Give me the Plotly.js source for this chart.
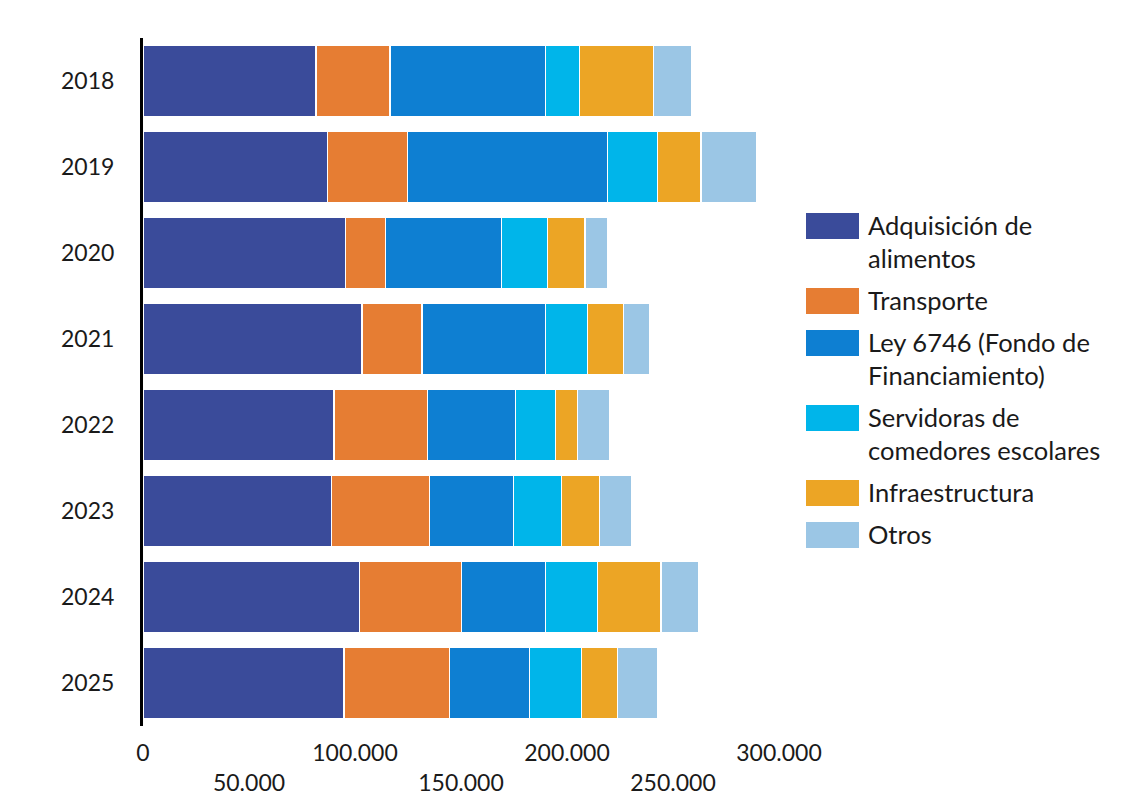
<!DOCTYPE html>
<html>
<head>
<meta charset="utf-8">
<script src="https://cdn.plot.ly/plotly-3.0.1.min.js"></script>
<style>
  html, body { margin: 0; padding: 0; background: #ffffff; }
  #chart { width: 1130px; height: 809px; }
</style>
</head>
<body>
<div id="chart"></div>
<script>
// Years shown on the vertical axis (top to bottom)
const years = ['2018', '2019', '2020', '2021', '2022', '2023', '2024', '2025'];

// Spending by item, same order as years
const adquisicion   = [81500, 87100, 95600, 103200, 90000, 89000, 102200, 94700];
const transporte    = [34900, 37700, 18800, 28300, 44300, 46200, 48000, 49900];
const ley6746       = [73500, 94200, 54600, 58400, 41500, 39600, 39600, 37700];
const servidoras    = [16000, 23600, 21700, 19800, 18800, 22600, 24500, 24500];
const infra         = [34900, 20700, 17900, 17000, 10400, 17900, 30100, 17000];
const otros         = [17900, 26400, 10400, 12200, 15100, 15100, 17900, 18800];

const seriesNames = [
  'Adquisición de<br>alimentos',
  'Transporte',
  'Ley 6746 (Fondo de<br>Financiamiento)',
  'Servidoras de<br>comedores escolares',
  'Infraestructura',
  'Otros'
];
const seriesValues = [adquisicion, transporte, ley6746, servidoras, infra, otros];
const seriesColors = ['#3A4B9A', '#E67D33', '#0E7FD2', '#00B5EA', '#ECA525', '#9BC6E5'];

// X axis ticks, labels alternate between two rows
const xTickVals = [0, 50000, 100000, 150000, 200000, 250000, 300000];
const xTickText = ['0', '\u00a0<br>50.000', '100.000', '\u00a0<br>150.000', '200.000', '\u00a0<br>250.000', '300.000'];

const FONT = 'Lato, "Open Sans", sans-serif';

const traces = seriesValues.map((vals, i) => ({
  type: 'bar',
  orientation: 'h',
  y: years,
  x: vals,
  name: seriesNames[i],
  marker: { color: seriesColors[i], line: { color: '#ffffff', width: 1.5 } },
  showlegend: false,
  hoverinfo: 'x+name'
}));

// Page geometry for the plot area
const W = 1130, H = 809;
const M = { l: 143, r: 351, t: 38, b: 83 };
const plotW = W - M.l - M.r;
const plotH = H - M.t - M.b;
const px2x = px => (px - M.l) / plotW;
const px2y = py => 1 - (py - M.t) / plotH;

// Custom legend block on the right side
const legendLeft = 806, swatchW = 53, swatchH = 26, textLeft = 866;
const lineGap = 33, itemGap = 42;
const shapes = [];
const annotations = [];
let rowY = 226; // centre of the first text line of the current item
seriesNames.forEach((name, i) => {
  const lines = name.split('<br>').length;
  shapes.push({
    type: 'rect', xref: 'paper', yref: 'paper',
    x0: px2x(legendLeft), x1: px2x(legendLeft + swatchW),
    y0: px2y(rowY - swatchH / 2), y1: px2y(rowY + swatchH / 2),
    fillcolor: seriesColors[i], line: { width: 0 }
  });
  annotations.push({
    xref: 'paper', yref: 'paper',
    x: px2x(textLeft), y: px2y(rowY - 1 + (lines - 1) * lineGap / 2),
    xanchor: 'left', yanchor: 'middle', align: 'left',
    text: name, showarrow: false,
    font: { family: FONT, size: 25.5, color: '#1a1a1a' }
  });
  rowY += itemGap + (lines - 1) * lineGap;
});

const layout = {
  width: W, height: H,
  margin: M,
  paper_bgcolor: '#ffffff',
  plot_bgcolor: '#ffffff',
  barmode: 'stack',
  bargap: 0.163,
  font: { family: FONT, size: 23, color: '#1a1a1a' },
  xaxis: {
    range: [0, 300000],
    tickvals: xTickVals,
    ticktext: xTickText,
    showgrid: false, zeroline: false, showline: false,
    ticks: 'outside', ticklen: 6, tickcolor: 'rgba(0,0,0,0)',
    tickfont: { family: FONT, size: 23, color: '#1a1a1a' },
    fixedrange: true
  },
  yaxis: {
    type: 'category',
    autorange: 'reversed',
    showgrid: false, zeroline: false,
    showline: true, linecolor: '#000000', linewidth: 3,
    ticks: 'outside', ticklen: 21, tickcolor: 'rgba(0,0,0,0)',
    tickfont: { family: FONT, size: 23, color: '#1a1a1a' },
    fixedrange: true
  },
  shapes: shapes,
  annotations: annotations,
  showlegend: false
};

Plotly.newPlot('chart', traces, layout, { displayModeBar: false, staticPlot: true });
</script>
</body>
</html>
